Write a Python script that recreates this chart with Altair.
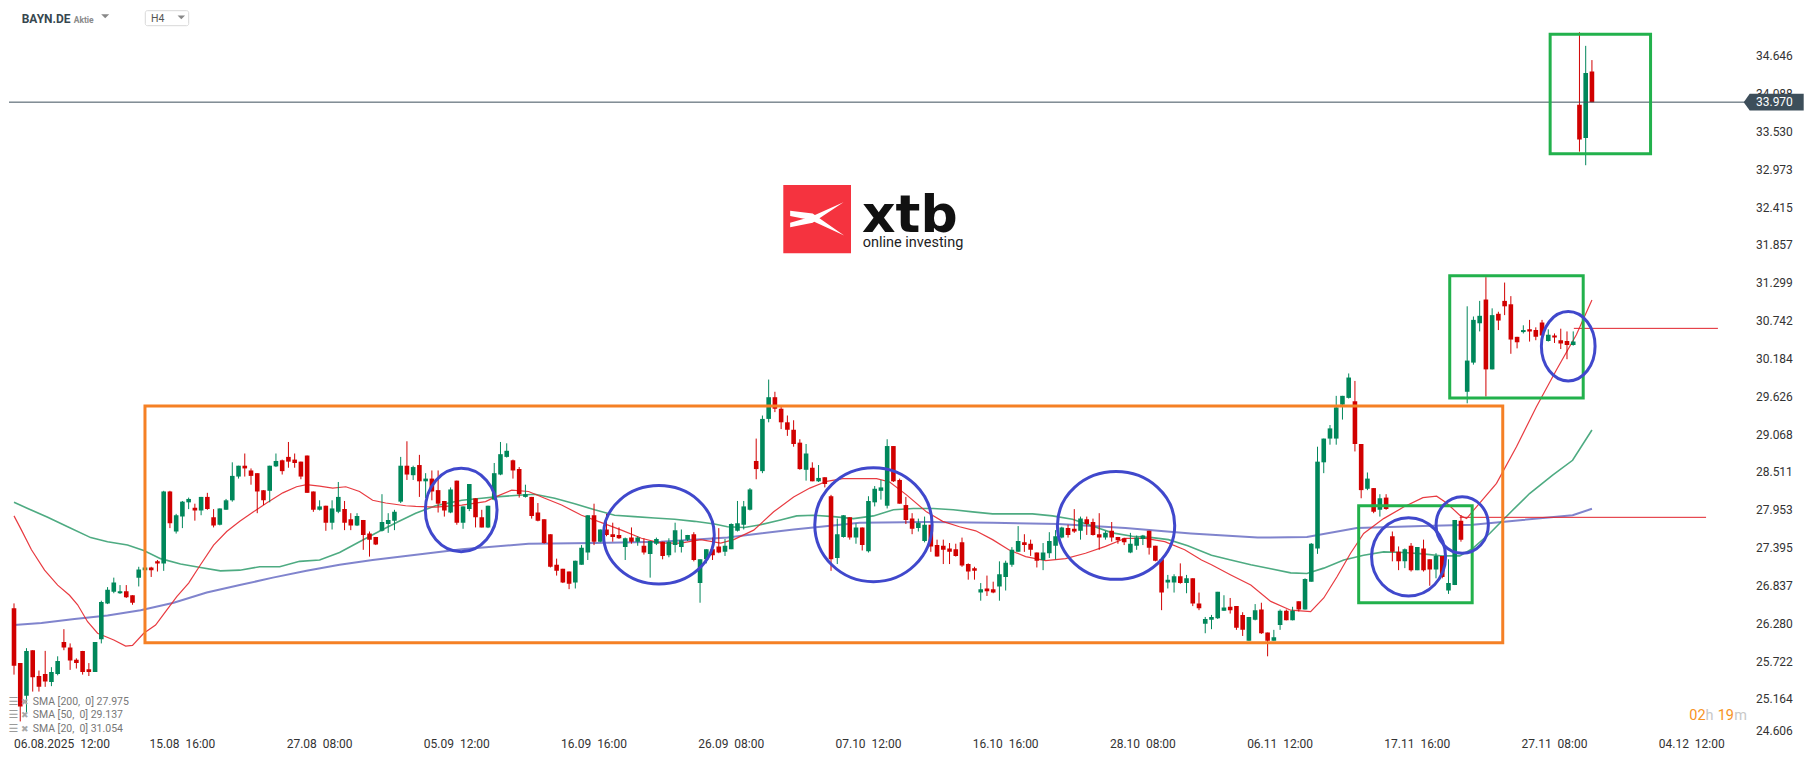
import altair as alt
import pandas as pd

# ---------------- data ----------------
OPEN = [
    26.51, 25.70, 25.22, 25.89, 25.51, 25.54, 25.42, 25.54, 26.01, 25.93,
    25.75, 25.88, 25.61, 25.57, 26.05, 26.58, 26.75, 26.73, 26.76, 26.70,
    26.96, 27.07, 27.11, 27.20, 27.17, 28.23, 27.64, 27.86, 28.07, 27.99,
    27.95, 28.15, 27.85, 27.74, 27.96, 28.10, 28.45, 28.61, 28.54, 28.50,
    28.25, 28.24, 28.60, 28.69, 28.74, 28.70, 28.67, 28.76, 28.23, 27.96,
    28.02, 27.77, 27.93, 27.97, 27.82, 27.73, 27.81, 27.61, 27.56, 27.65,
    27.75, 27.80, 28.08, 28.61, 28.47, 28.62, 28.38, 28.42, 28.25, 28.09,
    27.92, 28.39, 27.77, 27.97, 28.13, 27.85, 27.70, 28.11, 28.48, 28.74,
    28.69, 28.56, 28.15, 28.15, 27.92, 27.82, 27.60, 27.15, 27.09, 27.05,
    26.89, 27.15, 27.33, 27.88, 27.49, 27.67, 27.60, 27.59, 27.41, 27.55,
    27.49, 27.43, 27.31, 27.46, 27.49, 27.29, 27.44, 27.41, 27.52, 27.60,
    26.88, 27.23, 27.38, 27.42, 27.34, 27.38, 27.65, 27.74, 27.96, 28.68,
    28.53, 29.30, 29.62, 29.45, 29.25, 29.14, 28.95, 28.55, 28.58, 28.38,
    28.44, 28.16, 27.25, 27.56, 27.85, 27.55, 27.70, 27.35, 28.07, 28.24,
    28.02, 28.90, 28.40, 28.03, 27.83, 27.69, 27.50, 27.74, 27.44, 27.43,
    27.39, 27.38, 27.48, 27.16, 27.10, 26.74, 26.80, 26.79, 26.83, 26.97,
    27.15, 27.34, 27.48, 27.46, 27.33, 27.22, 27.32, 27.43, 27.55, 27.69,
    27.68, 27.65, 27.82, 27.78, 27.60, 27.55, 27.65, 27.56, 27.54, 27.33,
    27.43, 27.53, 27.65, 27.43, 27.23, 26.89, 26.89, 26.98, 26.88, 26.95,
    26.58, 26.28, 26.34, 26.36, 26.47, 26.53, 26.54, 26.41, 26.03, 26.34,
    26.49, 26.15, 26.03, 26.26, 26.47, 26.33, 26.61, 26.49, 26.90, 27.39,
    28.66, 29.01, 29.01, 29.51, 29.61, 29.56, 28.93, 28.27, 28.28, 27.96,
    28.14, 27.57, 27.34, 27.20, 27.43, 27.07, 27.39, 27.23, 27.08, 27.28,
    26.77, 26.85, 27.80, 29.70, 30.13, 30.71, 31.06, 30.03, 30.85, 31.04,
    30.99, 30.51, 30.58, 30.62, 30.61, 30.72, 30.45, 30.53, 30.46, 30.45,
    30.39, 33.93, 33.44, 34.42,
]
HIGH = [
    26.58, 25.70, 25.92, 25.89, 25.59, 25.88, 25.64, 25.80, 26.20, 25.99,
    25.77, 25.88, 25.70, 26.01, 26.62, 26.82, 26.96, 26.85, 26.85, 26.70,
    27.12, 27.12, 27.12, 27.22, 28.24, 28.24, 27.90, 28.09, 28.14, 28.05,
    28.15, 28.21, 27.97, 27.98, 28.12, 28.66, 28.61, 28.79, 28.57, 28.50,
    28.25, 28.61, 28.79, 28.70, 28.96, 28.79, 28.67, 28.76, 28.23, 28.10,
    28.02, 28.10, 28.37, 28.09, 27.91, 27.91, 27.81, 27.64, 27.56, 28.19,
    27.91, 27.96, 28.74, 28.97, 28.61, 28.77, 28.50, 28.54, 28.54, 28.09,
    28.29, 28.39, 28.01, 28.34, 28.13, 27.96, 28.02, 28.65, 28.96, 28.94,
    28.70, 28.59, 28.33, 28.15, 28.06, 27.82, 27.60, 27.24, 27.09, 27.05,
    27.21, 27.44, 27.88, 28.05, 27.67, 27.90, 27.77, 27.70, 27.55, 27.70,
    27.57, 27.54, 27.50, 27.55, 27.49, 27.54, 27.77, 27.67, 27.59, 27.63,
    27.23, 27.38, 27.55, 27.69, 27.53, 27.76, 28.09, 28.09, 28.28, 29.01,
    29.35, 29.88, 29.70, 29.50, 29.35, 29.28, 29.00, 28.93, 28.66, 28.62,
    28.44, 28.18, 27.83, 27.88, 27.85, 27.76, 27.70, 28.16, 28.31, 28.40,
    29.00, 28.90, 28.42, 28.15, 27.91, 27.83, 27.86, 27.74, 27.52, 27.52,
    27.47, 27.46, 27.55, 27.17, 27.12, 26.88, 26.99, 26.90, 27.20, 27.21,
    27.41, 27.72, 27.60, 27.52, 27.33, 27.47, 27.63, 27.66, 27.71, 27.74,
    27.97, 27.86, 27.86, 27.83, 27.91, 27.65, 27.78, 27.56, 27.55, 27.62,
    27.58, 27.59, 27.65, 27.43, 27.23, 27.00, 27.01, 27.17, 27.00, 26.95,
    26.74, 26.38, 26.41, 26.75, 26.70, 26.66, 26.54, 26.45, 26.38, 26.57,
    26.59, 26.15, 26.19, 26.49, 26.49, 26.53, 26.61, 26.95, 27.47, 28.89,
    29.01, 29.21, 29.64, 29.64, 29.97, 29.86, 28.93, 28.51, 28.28, 28.19,
    28.19, 27.64, 27.42, 27.39, 27.47, 27.41, 27.52, 27.23, 27.32, 27.28,
    27.23, 27.81, 27.88, 30.96, 30.81, 31.04, 31.39, 30.93, 30.88, 31.31,
    31.11, 30.51, 30.68, 30.76, 30.65, 30.76, 30.62, 30.56, 30.63, 30.59,
    30.59, 35.00, 34.80, 34.59,
]
LOW = [
    25.53, 24.84, 24.96, 25.28, 25.28, 25.35, 25.36, 25.52, 25.89, 25.60,
    25.62, 25.53, 25.51, 25.57, 25.99, 26.57, 26.73, 26.72, 26.66, 26.56,
    26.83, 27.06, 26.97, 27.05, 27.06, 27.69, 27.61, 27.69, 27.97, 27.80,
    27.88, 27.96, 27.70, 27.73, 27.96, 28.08, 28.42, 28.45, 28.33, 27.91,
    28.03, 28.07, 28.59, 28.48, 28.58, 28.58, 28.41, 28.21, 27.93, 27.95,
    27.65, 27.67, 27.91, 27.66, 27.66, 27.72, 27.37, 27.27, 27.44, 27.64,
    27.62, 27.66, 28.06, 28.40, 28.40, 28.15, 28.13, 28.10, 27.92, 27.86,
    27.91, 27.74, 27.68, 27.94, 27.70, 27.70, 27.69, 28.10, 28.47, 28.73,
    28.42, 28.14, 28.14, 27.83, 27.79, 27.46, 27.11, 26.99, 26.88, 26.79,
    26.80, 27.15, 27.22, 27.44, 27.48, 27.57, 27.49, 27.53, 27.22, 27.46,
    27.43, 27.30, 26.96, 27.44, 27.23, 27.26, 27.33, 27.33, 27.50, 27.20,
    26.59, 27.17, 27.22, 27.32, 27.28, 27.38, 27.64, 27.67, 27.95, 28.41,
    28.50, 29.25, 29.40, 29.15, 29.05, 28.89, 28.55, 28.39, 28.38, 28.37,
    28.29, 27.06, 27.16, 27.55, 27.52, 27.46, 27.36, 27.33, 28.01, 28.11,
    27.98, 28.37, 28.05, 27.75, 27.60, 27.64, 27.48, 27.34, 27.27, 27.16,
    27.16, 27.27, 27.12, 26.93, 26.93, 26.62, 26.69, 26.73, 26.62, 26.77,
    27.12, 27.34, 27.34, 27.28, 27.11, 27.07, 27.25, 27.23, 27.54, 27.55,
    27.62, 27.52, 27.59, 27.58, 27.37, 27.52, 27.49, 27.46, 27.44, 27.32,
    27.37, 27.44, 27.30, 27.20, 26.48, 26.80, 26.74, 26.87, 26.73, 26.54,
    26.48, 26.14, 26.20, 26.35, 26.47, 26.43, 26.19, 26.10, 26.03, 26.33,
    26.13, 25.80, 26.03, 26.19, 26.33, 26.33, 26.46, 26.49, 26.90, 27.31,
    28.50, 28.92, 28.92, 29.29, 29.60, 28.82, 28.13, 28.25, 27.91, 27.86,
    27.96, 27.20, 27.07, 27.10, 27.05, 27.07, 27.05, 26.84, 26.95, 26.95,
    26.72, 26.85, 27.49, 29.53, 30.10, 30.59, 29.63, 30.03, 30.61, 30.83,
    30.26, 30.34, 30.56, 30.44, 30.46, 30.46, 30.44, 30.42, 30.33, 30.18,
    30.38, 33.24, 33.04, 33.97,
]
CLOSE = [
    25.66, 25.06, 25.88, 25.49, 25.35, 25.43, 25.57, 25.73, 25.93, 25.74,
    25.70, 25.57, 25.57, 26.01, 26.60, 26.78, 26.89, 26.76, 26.67, 26.59,
    27.08, 27.11, 27.07, 27.17, 28.23, 27.76, 27.88, 28.08, 28.12, 27.95,
    28.15, 27.97, 27.73, 27.98, 28.10, 28.46, 28.61, 28.57, 28.46, 28.23,
    28.10, 28.61, 28.68, 28.53, 28.67, 28.65, 28.45, 28.21, 27.96, 28.01,
    27.77, 27.98, 28.15, 27.77, 27.73, 27.87, 27.59, 27.52, 27.45, 27.78,
    27.81, 27.93, 28.61, 28.48, 28.59, 28.38, 28.42, 28.23, 28.05, 27.95,
    28.26, 27.77, 28.01, 28.34, 27.85, 27.70, 28.02, 28.50, 28.78, 28.83,
    28.54, 28.19, 28.19, 27.87, 27.80, 27.47, 27.12, 27.06, 26.89, 26.87,
    27.21, 27.40, 27.88, 27.49, 27.67, 27.59, 27.56, 27.54, 27.54, 27.49,
    27.55, 27.33, 27.50, 27.53, 27.28, 27.49, 27.66, 27.51, 27.59, 27.22,
    27.23, 27.38, 27.29, 27.33, 27.43, 27.75, 27.76, 28.01, 28.26, 28.56,
    29.30, 29.62, 29.45, 29.25, 29.14, 28.93, 28.56, 28.79, 28.38, 28.43,
    28.34, 27.23, 27.60, 27.88, 27.55, 27.70, 27.44, 28.09, 28.27, 28.29,
    28.90, 28.38, 28.05, 27.81, 27.68, 27.77, 27.74, 27.42, 27.27, 27.37,
    27.34, 27.28, 27.14, 27.05, 27.06, 26.79, 26.76, 26.74, 27.01, 27.18,
    27.37, 27.50, 27.44, 27.37, 27.21, 27.33, 27.50, 27.57, 27.70, 27.59,
    27.64, 27.83, 27.75, 27.59, 27.55, 27.62, 27.55, 27.51, 27.48, 27.46,
    27.55, 27.58, 27.40, 27.21, 26.74, 26.93, 26.98, 26.88, 26.95, 26.58,
    26.51, 26.35, 26.38, 26.75, 26.52, 26.48, 26.22, 26.19, 26.38, 26.48,
    26.14, 26.03, 26.08, 26.47, 26.33, 26.47, 26.49, 26.94, 27.46, 28.67,
    29.01, 29.16, 29.47, 29.64, 29.91, 28.93, 28.25, 28.42, 27.93, 28.13,
    27.97, 27.34, 27.20, 27.38, 27.07, 27.41, 27.07, 27.08, 27.28, 26.97,
    26.88, 27.81, 27.52, 30.16, 30.76, 30.82, 30.03, 30.83, 30.75, 30.96,
    30.47, 30.43, 30.61, 30.59, 30.51, 30.53, 30.54, 30.50, 30.41, 30.39,
    30.44, 33.42, 34.40, 33.97,
]

SMA20_I = [0, 1.2, 2.8, 4.9, 7.0, 8.9, 10.2, 11.8, 13.4, 16.0, 17.9, 19.0, 20.8, 22.7, 24.3,
           26.1, 28.0, 29.9, 32.0, 34.1, 36.2, 38.4, 40.5, 43.1, 45.3, 46.9, 49.0, 51.1, 53.2,
           55.4, 57.5, 59.6, 62.8, 64.4, 67.6, 71.8, 75.6, 77.2, 79.8, 82.5, 85.1, 87.8, 91.0,
           94.2, 97.4, 100.6, 103.7, 106.9, 110.1, 113.3, 115.4, 118.6, 121.8, 125.0, 127.6,
           130.3, 132.9, 135.6, 138.3, 140.4, 143.1, 146.3, 148.9, 151.6, 154.2, 156.9, 159.5,
           162.2, 165.4, 168.6, 171.8, 175.0, 178.2, 181.4, 184.5, 187.7, 190.4, 192.0, 195.1,
           198.3, 201.5, 204.7, 207.9, 210.0, 212.1, 214.3, 216.4, 219.6, 222.8, 225.9, 228.1,
           229.7, 231.8, 232.9, 235.0, 237.7, 240.9, 244.1, 247.3, 250.5, 253.0]
SMA20_V = [27.87, 27.66, 27.37, 27.07, 26.85, 26.70, 26.56, 26.31, 26.14, 26.04, 25.95, 25.96,
           26.14, 26.26, 26.46, 26.68, 26.88, 27.15, 27.44, 27.64, 27.79, 27.93, 28.06, 28.21,
           28.30, 28.33, 28.31, 28.28, 28.30, 28.23, 28.10, 28.06, 28.02, 28.01, 28.00, 28.03,
           28.08, 28.15, 28.25, 28.23, 28.13, 28.03, 27.88, 27.77, 27.66, 27.54, 27.47, 27.47,
           27.52, 27.47, 27.52, 27.66, 27.93, 28.15, 28.28, 28.38, 28.42, 28.42, 28.42, 28.37,
           28.18, 27.93, 27.79, 27.71, 27.65, 27.52, 27.37, 27.27, 27.21, 27.24, 27.32, 27.42,
           27.54, 27.54, 27.49, 27.37, 27.22, 27.15, 27.00, 26.85, 26.61, 26.48, 26.46, 26.66,
           26.97, 27.32, 27.61, 27.83, 28.00, 28.14, 28.16, 28.06, 27.88, 27.83, 28.06, 28.35,
           28.89, 29.48, 30.02, 30.54, 31.054]

SMA50_I = [0, 2.2, 5.4, 8.6, 12.3, 15.0, 18.2, 20.8, 23.5, 26.7, 29.9, 33.1, 36.2, 39.4, 42.6,
           45.8, 49.0, 52.2, 55.4, 58.5, 61.5, 64.4, 67.6, 71.8, 75.0, 77.2, 80.3, 83.5, 86.7,
           89.9, 93.1, 96.3, 99.5, 102.7, 105.9, 109.1, 112.3, 114.4, 117.1, 119.7, 122.9, 125.5,
           128.2, 131.4, 134.6, 137.8, 141.0, 144.2, 147.4, 150.6, 153.7, 156.9, 160.1, 163.3,
           166.5, 169.7, 172.9, 176.1, 179.3, 182.5, 185.1, 188.2, 192.0, 195.1, 198.3, 201.5,
           204.7, 207.3, 210.0, 213.2, 216.4, 219.6, 222.8, 225.9, 229.1, 231.8, 233.9, 236.6,
           239.8, 243.0, 246.7, 249.9, 253.0]
SMA50_V = [28.07, 27.98, 27.85, 27.71, 27.55, 27.49, 27.44, 27.36, 27.24, 27.16, 27.11, 27.06,
           27.07, 27.12, 27.12, 27.20, 27.22, 27.33, 27.49, 27.64, 27.78, 27.91, 28.02, 28.10,
           28.13, 28.15, 28.17, 28.19, 28.13, 28.05, 27.96, 27.88, 27.86, 27.84, 27.82, 27.79,
           27.75, 27.71, 27.70, 27.74, 27.81, 27.87, 27.88, 27.86, 27.83, 27.87, 27.96, 27.98,
           27.98, 27.96, 27.93, 27.90, 27.90, 27.90, 27.87, 27.82, 27.72, 27.62, 27.57, 27.55,
           27.52, 27.43, 27.29, 27.22, 27.15, 27.09, 27.03, 27.02, 27.10, 27.22, 27.29, 27.34,
           27.33, 27.31, 27.28, 27.28, 27.39, 27.61, 27.91, 28.20, 28.47, 28.69, 29.137]

SMA200_I = [0, 4.4, 9.7, 15.0, 20.3, 25.6, 30.9, 36.2, 41.5, 46.9, 52.2, 57.5, 62.8, 71.8, 82.5,
            93.1, 103.7, 114.4, 125.0, 135.6, 146.3, 156.9, 167.5, 178.2, 188.7, 199.4, 207.3,
            215.3, 225.9, 233.9, 241.9, 249.9, 253.0]
SMA200_V = [26.26, 26.29, 26.35, 26.40, 26.48, 26.59, 26.74, 26.85, 26.96, 27.06, 27.15, 27.22,
            27.28, 27.38, 27.46, 27.47, 27.49, 27.55, 27.67, 27.77, 27.78, 27.77, 27.75, 27.69,
            27.61, 27.55, 27.56, 27.69, 27.72, 27.74, 27.81, 27.88, 27.975]

X_TICK_POS = [0, 27, 49, 71, 93, 115, 137, 159, 181, 203, 225, 247, 269]
X_TICK_LABELS = ["06.08.2025\u00a0\u00a012:00", "15.08\u00a0\u00a016:00", "27.08\u00a0\u00a008:00",
                 "05.09\u00a0\u00a012:00", "16.09\u00a0\u00a016:00", "26.09\u00a0\u00a008:00",
                 "07.10\u00a0\u00a012:00", "16.10\u00a0\u00a016:00", "28.10\u00a0\u00a008:00",
                 "06.11\u00a0\u00a012:00", "17.11\u00a0\u00a016:00", "27.11\u00a0\u00a008:00",
                 "04.12\u00a0\u00a012:00"]
Y_TICKS = [34.646, 34.088, 33.530, 32.973, 32.415, 31.857, 31.299, 30.742, 30.184, 29.626,
           29.068, 28.511, 27.953, 27.395, 26.837, 26.280, 25.722, 25.164, 24.606]

LAST_PRICE = 33.970
LEVEL_Y = [30.635, 27.849]
LEVEL_X0 = [250.1, 231.8]
LEVEL_X1 = [273.2, 271.3]

ZONE_X0 = [21.0, 230.2, 215.6, 246.3]
ZONE_X1 = [238.7, 251.6, 233.8, 262.4]
ZONE_Y0 = [29.49, 31.41, 28.02, 34.97]
ZONE_Y1 = [26.00, 29.61, 26.59, 33.21]
ZONE_KIND = ["orange", "green", "green", "green"]

CIRCLE_I = [71.7, 103.4, 137.8, 176.7, 223.6, 232.2, 249.2]
CIRCLE_V = [27.957, 27.592, 27.740, 27.729, 27.267, 27.736, 30.371]

LEGEND_LINES = ["SMA [200,\u00a0\u00a00] 27.975", "SMA [50,\u00a0\u00a00] 29.137",
                "SMA [20,\u00a0\u00a00] 31.054"]

# ---------------- styles ----------------
W, H = 1737, 729.3
X_DOMAIN = [0, 276.9]
Y_DOMAIN = [24.606, 35.358]
GREEN = "#00875a"
RED = "#d10000"
SLATE = "#3d4e5a"
ORANGE = "#f58025"
BOX_GREEN = "#22b14c"
BLUE = "#4048cc"
AXIS_TEXT = "#333333"
CIRCLE_W = [71.7, 110.7, 117.3, 117.3, 74.0, 52.3, 53.7]
CIRCLE_H = [83.3, 98.3, 114.0, 107.7, 78.3, 56.7, 69.3]


def ellipse_path(r):
    k = 0.5523
    return (f"M-1,0 C-1,{-k*r:.4f} {-k:.4f},{-r:.4f} 0,{-r:.4f} "
            f"C{k:.4f},{-r:.4f} 1,{-k*r:.4f} 1,0 "
            f"C1,{k*r:.4f} {k:.4f},{r:.4f} 0,{r:.4f} "
            f"C{-k:.4f},{r:.4f} -1,{k*r:.4f} -1,0 Z")


TAG_PATH = "M-1,0 L-0.8,-0.28 L1,-0.28 L1,0.28 L-0.8,0.28 Z"
TRI_PATH = "M-1,-0.5 L1,-0.5 L0,0.5 Z"
XTB_PATH = ("M-0.994,-0.294 L-0.160,-0.196 L1.006,0.626 L-0.245,0.049 L-0.994,-0.098 Z "
            "M-0.994,0.147 L-0.221,-0.074 L0.982,-0.613 L-0.160,0.147 L-0.994,0.319 Z")

xs = alt.Scale(domain=X_DOMAIN, nice=False, zero=False)
ys = alt.Scale(domain=Y_DOMAIN, nice=False, zero=False)


def XQ(f):
    return alt.X(f, scale=xs, axis=None)


def YQ(f):
    return alt.Y(f, scale=ys, axis=None)


candles = pd.DataFrame({"i": list(range(len(OPEN))), "o": OPEN, "h": HIGH, "l": LOW, "c": CLOSE})
dir_color = alt.condition("datum.c >= datum.o", alt.value(GREEN), alt.value(RED))

wicks = alt.Chart(candles).mark_rule(strokeWidth=1, clip=True).encode(
    x=XQ("i:Q"), y=YQ("l:Q"), y2="h:Q", color=dir_color)
bodies = alt.Chart(candles).mark_bar(size=4.6, clip=True).encode(
    x=XQ("i:Q"), y=YQ("o:Q"), y2="c:Q", color=dir_color)


def sma_layer(I, V, color, width, opacity):
    d = pd.DataFrame({"i": I, "v": V})
    return alt.Chart(d).mark_line(color=color, strokeWidth=width, opacity=opacity, clip=True).encode(
        x=XQ("i:Q"), y=YQ("v:Q"))


sma200 = sma_layer(SMA200_I, SMA200_V, "#6a6ec4", 2.0, 0.85)
sma50 = sma_layer(SMA50_I, SMA50_V, "#2f9c6c", 1.6, 0.85)
sma20 = sma_layer(SMA20_I, SMA20_V, "#e5262c", 1.2, 0.9)

price_df = pd.DataFrame({"p": [LAST_PRICE]})
price_line = alt.Chart(price_df).mark_rule(color=SLATE, strokeWidth=1).encode(y=YQ("p:Q"))

level_df = pd.DataFrame({"y": LEVEL_Y, "x0": LEVEL_X0, "x1": LEVEL_X1})
levels = alt.Chart(level_df).mark_rule(color="#e0202a", strokeWidth=1).encode(
    x=XQ("x0:Q"), x2="x1:Q", y=YQ("y:Q"))

zone_df = pd.DataFrame({"x0": ZONE_X0, "x1": ZONE_X1, "y0": ZONE_Y0, "y1": ZONE_Y1, "kind": ZONE_KIND})
zones = alt.Chart(zone_df).mark_rect(fillOpacity=0, strokeWidth=3).encode(
    x=XQ("x0:Q"), x2="x1:Q", y=YQ("y0:Q"), y2="y1:Q",
    stroke=alt.Stroke("kind:N", scale=alt.Scale(domain=["orange", "green"], range=[ORANGE, BOX_GREEN]),
                      legend=None),
)

circle_df = pd.DataFrame({
    "i": CIRCLE_I, "v": CIRCLE_V,
    "shape": [ellipse_path(h / w) for w, h in zip(CIRCLE_W, CIRCLE_H)],
    "sz": [w * w for w in CIRCLE_W],
})
circles = alt.Chart(circle_df).mark_point(filled=False, strokeWidth=3, color=BLUE, opacity=1).encode(
    x=XQ("i:Q"), y=YQ("v:Q"),
    shape=alt.Shape("shape:N", scale=None), size=alt.Size("sz:Q", scale=None))

# ---- axis labels, placed through the scales ----
xt = pd.DataFrame({"pos": X_TICK_POS, "lab": X_TICK_LABELS})
x_first = alt.Chart(xt.iloc[:1]).mark_text(align="left", baseline="middle", font="Roboto",
                                           fontSize=12, color=AXIS_TEXT).encode(
    x=XQ("pos:Q"), y=alt.value(736), text="lab:N")
x_rest = alt.Chart(xt.iloc[1:]).mark_text(align="center", baseline="middle", font="Roboto",
                                          fontSize=12, color=AXIS_TEXT).encode(
    x=XQ("pos:Q"), y=alt.value(736), text="lab:N")

yt = pd.DataFrame({"v": Y_TICKS})
y_main = alt.Chart(yt.iloc[:-1]).mark_text(align="left", baseline="middle", font="Roboto",
                                           fontSize=12, color=AXIS_TEXT).encode(
    x=alt.value(W + 10), y=YQ("v:Q"), text=alt.Text("v:Q", format=".3f"))
y_last = alt.Chart(yt.iloc[-1:]).mark_text(align="left", baseline="bottom", font="Roboto",
                                           fontSize=12, color=AXIS_TEXT, dy=1).encode(
    x=alt.value(W + 10), y=YQ("v:Q"), text=alt.Text("v:Q", format=".3f"))

ONE = pd.DataFrame({"k": [0]})


def txt(text, x, y, size, color, weight="normal", font="Roboto", align="left", baseline="middle"):
    return alt.Chart(ONE).mark_text(text=text, align=align, baseline=baseline, font=font,
                                    fontSize=size, fontWeight=weight, color=color).encode(
        x=alt.value(x), y=alt.value(y))


def sym(path, x, y, size, color):
    return alt.Chart(ONE).mark_point(shape=path, size=size, filled=True, color=color, opacity=1,
                                     strokeWidth=0).encode(x=alt.value(x), y=alt.value(y))


# price tag
tag = alt.Chart(price_df).mark_point(shape=TAG_PATH, size=3600, filled=True, color=SLATE, opacity=1,
                                     strokeWidth=0).encode(x=alt.value(W + 27.7), y=YQ("p:Q"))
tag_text = alt.Chart(price_df).mark_text(align="left", baseline="middle", font="Roboto", fontSize=12,
                                         color="white").encode(
    x=alt.value(W + 10), y=YQ("p:Q"), text=alt.Text("p:Q", format=".3f"))

# logo
logo_sq = alt.Chart(ONE).mark_rect(color="#f5333f").encode(
    x=alt.value(774.3), x2=alt.value(842), y=alt.value(177), y2=alt.value(245.3))
logo_x = sym(XTB_PATH, 808, 210.7, 2916, "white")
logo_txt = txt("xtb", 853, 224, 52, "#111111", "bold", font="DejaVu Sans", baseline="alphabetic")
logo_sub = txt("online investing", 853.7, 239.5, 14.5, "#222222", baseline="alphabetic")

# header
hdr_sym = txt("BAYN.DE", 12.7, 15.3, 12, "#37474f", "bold", baseline="alphabetic")
hdr_kind = txt("Aktie", 64.7, 15.3, 8.5, "#8a8a8a", "bold", baseline="alphabetic")
hdr_tri1 = sym(TRI_PATH, 96.2, 8.2, 64, "#888888")
h4_box = alt.Chart(ONE).mark_rect(fill="white", stroke="#d8d8d8", strokeWidth=1, cornerRadius=2).encode(
    x=alt.value(136.3), x2=alt.value(179.7), y=alt.value(2.7), y2=alt.value(17.7))
h4_txt = txt("H4", 142, 11, 10.5, "#555555")
hdr_tri2 = sym(TRI_PATH, 172.3, 9.3, 56, "#888888")

# SMA legend
legend_layers = []
for k, line in enumerate(LEGEND_LINES):
    yy = 693.7 + k * 13.8
    legend_layers.append(txt("\u2630", 4.5, yy, 11, "#9a9a9a", font="DejaVu Sans", align="center"))
    legend_layers.append(txt("\u2716", 15.7, yy, 9, "#a8a8a8", font="DejaVu Sans", align="center"))
    legend_layers.append(txt(line, 23.7, yy, 10.5, "#777777"))

# countdown
cd = [
    txt("02", 1680.3, 708, 14.5, "#f7931e"),
    txt("h", 1696.5, 708, 14.5, "#c8c8c8"),
    txt("19", 1708.7, 708, 14.5, "#f7931e"),
    txt("m", 1725.3, 708, 14.5, "#c8c8c8"),
]

chart = alt.layer(
    sma200, sma50, sma20, wicks, bodies, price_line, levels, zones, circles,
    x_first, x_rest, y_main, y_last,
    logo_sq, logo_x, logo_txt, logo_sub,
    hdr_sym, hdr_kind, hdr_tri1, h4_box, h4_txt, hdr_tri2,
    *legend_layers, *cd, tag, tag_text,
).properties(
    width=W, height=H, padding=0, background="white"
).configure_view(stroke=None)

chart.save("out.html", embed_options={"renderer": "svg", "actions": False})
